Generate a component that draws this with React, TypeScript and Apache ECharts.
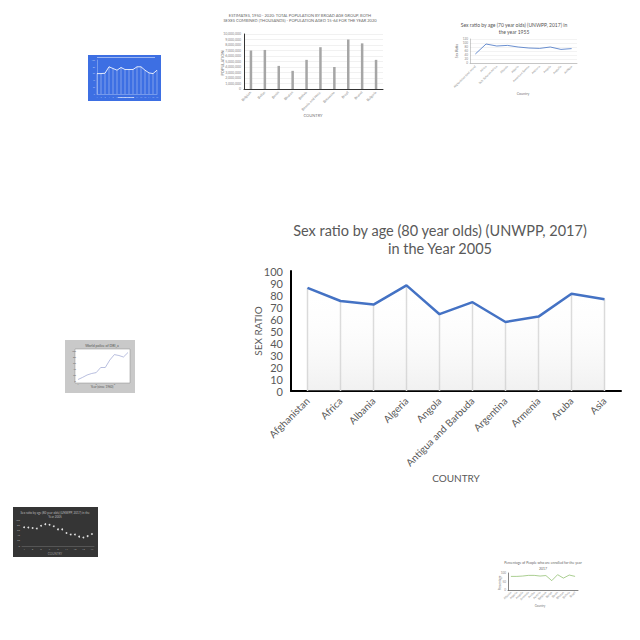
import React, { useEffect, useRef } from "react";
import * as echarts from "echarts";

// Main chart
const countries = ["Afghanistan", "Africa", "Albania", "Algeria", "Angola", "Antigua and Barbuda", "Argentina", "Armenia", "Aruba", "Asia"];
const sexRatio2005 = [86, 75, 72, 88, 64, 74, 57.5, 62, 81, 76.5];

// Thumbnail: population bars
const popCountries = ["Belgium", "Belize", "Benin", "Bhutan", "Bolivia", "Bosnia and Herz.", "Botswana", "Brazil", "Brunei", "Bulgaria"];
const popValues = [7000000, 7100000, 4200000, 3300000, 5300000, 7600000, 4000000, 9000000, 8300000, 5300000];

// Thumbnail: 70 year olds 1955
const ratioCountries = ["Afghanistan (and more)", "Africa", "Sub-Saharan Africa", "Albania", "Algeria", "American Samoa", "Andorra", "Angola", "Anguilla", "Antigua"];
const sexRatio1955 = [45, 95, 85, 88, 80, 75, 73, 80, 68, 72];

// Thumbnail: blue line
const blueCats = ["1", "2", "3", "4", "5", "6", "7", "8", "9", "10", "11", "12", "13", "14", "15", "16"];
const blueValues = [60, 60, 61, 80, 75, 70, 78, 72, 72, 72, 80, 80, 70, 62, 60, 70];

// Thumbnail: rising line (gray frame)
const grayCats = ["1", "2", "3", "4", "5", "6", "7", "8", "9", "10", "11", "12"];
const grayValues = [5, 12, 20, 25, 28, 45, 45, 70, 88, 85, 80, 95];

// Thumbnail: dark scatter
const darkCats = ["1", "2", "3", "4", "5", "6", "7", "8", "9", "10", "11", "12", "13", "14", "15", "16", "17"];
const darkValues = [72, 71, 69, 67, 78, 84, 82, 76, 64, 64, 50, 44, 44, 36, 33, 38, 46];

// Thumbnail: green line
const greenCats = ["Albania", "Algeria", "Angola", "Armenia", "Aruba", "Austria", "Belgium", "Belize", "Benin", "Bhutan", "Bolivia", "Brazil"];
const greenValues = [80, 80, 82, 86, 86, 82, 85, 55, 90, 70, 88, 80];

const FONT = "Lato, 'Open Sans', sans-serif";
const GRAY = "#595959";

export default function App() {
  const ref = useRef<HTMLDivElement>(null);
  useEffect(() => {
    if (!ref.current) return;
    const chart = echarts.init(ref.current, null, { renderer: "svg" });
    const tiny = { fontSize: 3, color: "#888", fontFamily: FONT };
    const hideAxis = { show: false };
    const option: any = {
      animation: false,
      backgroundColor: "#ffffff",
      textStyle: { fontFamily: FONT },
      graphic: [
        // blue thumbnail background
        { type: "rect", shape: { x: 88, y: 55, width: 73, height: 46 }, style: { fill: "#3d6fe3" }, z: -10 },
        { type: "rect", shape: { x: 97, y: 57, width: 58, height: 1 }, style: { fill: "rgba(255,255,255,0.5)" } },
        { type: "rect", shape: { x: 118, y: 97, width: 16, height: 1 }, style: { fill: "rgba(255,255,255,0.6)" } },
        // gray thumbnail frame
        { type: "rect", shape: { x: 65, y: 340, width: 70, height: 53 }, style: { fill: "#c9c9c9" }, z: -10 },
        { type: "rect", shape: { x: 75, y: 349, width: 55, height: 34 }, style: { fill: "#ffffff", stroke: "#888", lineWidth: 0.5 }, z: -9 },
        // dark thumbnail background
        { type: "rect", shape: { x: 13, y: 507, width: 85, height: 50 }, style: { fill: "#353535" }, z: -10 },
        { type: "text", x: 55, y: 511, style: { text: "Sex ratio by age (80 year olds) (UNWPP, 2017) in the", fill: "#bbb", fontSize: 3, align: "center", fontFamily: FONT } },
        { type: "text", x: 55, y: 515, style: { text: "Year 2005", fill: "#bbb", fontSize: 3, align: "center", fontFamily: FONT } },
        { type: "text", x: 55, y: 552, style: { text: "COUNTRY", fill: "#999", fontSize: 3, align: "center", fontFamily: FONT } },
        // gray thumbnail texts
        { type: "text", x: 102, y: 344, style: { text: "World police of DBI_a", fill: "#555", fontSize: 3.5, align: "center", fontFamily: FONT } },
        { type: "text", x: 102, y: 385, style: { text: "Year (since 1960)", fill: "#555", fontSize: 3, align: "center", fontFamily: FONT } },
        // pop thumbnail texts
        { type: "text", x: 300, y: 13, style: { text: "ESTIMATES, 1950 - 2020: TOTAL POPULATION BY BROAD AGE GROUP, BOTH", fill: "#666", fontSize: 4, align: "center", fontFamily: FONT } },
        { type: "text", x: 300, y: 18, style: { text: "SEXES COMBINED (THOUSANDS) - POPULATION AGED 15-64 FOR THE YEAR 2020", fill: "#666", fontSize: 4, align: "center", fontFamily: FONT } },
        { type: "text", x: 313, y: 113, style: { text: "COUNTRY", fill: "#777", fontSize: 4, align: "center", fontFamily: FONT } },
        { type: "text", x: 220, y: 63, rotation: Math.PI / 2, style: { text: "POPULATION", fill: "#777", fontSize: 4, align: "center", fontFamily: FONT } },
        // ratio 1955 thumbnail
        { type: "text", x: 514, y: 22, style: { text: "Sex ratio by age (70 year olds) (UNWPP, 2017) in", fill: "#555", fontSize: 5, align: "center", fontFamily: FONT } },
        { type: "text", x: 514, y: 29, style: { text: "the year 1955", fill: "#555", fontSize: 5, align: "center", fontFamily: FONT } },
        { type: "text", x: 523, y: 92, style: { text: "Country", fill: "#777", fontSize: 3.5, align: "center", fontFamily: FONT } },
        { type: "text", x: 455, y: 51, rotation: Math.PI / 2, style: { text: "Sex Ratio", fill: "#777", fontSize: 3.5, align: "center", fontFamily: FONT } },
        // green thumbnail
        { type: "text", x: 543, y: 561, style: { text: "Percentage of People who are enrolled for the year", fill: "#666", fontSize: 3.5, align: "center", fontFamily: FONT } },
        { type: "text", x: 543, y: 567, style: { text: "2017", fill: "#666", fontSize: 3.5, align: "center", fontFamily: FONT } },
        { type: "text", x: 540, y: 604, style: { text: "Country", fill: "#777", fontSize: 3, align: "center", fontFamily: FONT } },
        { type: "text", x: 498, y: 583, rotation: Math.PI / 2, style: { text: "Percentage", fill: "#777", fontSize: 3, align: "center", fontFamily: FONT } },
      ],
      title: [
        {
          text: "Sex ratio by age (80 year olds) (UNWPP, 2017)\nin the Year 2005",
          left: 435, top: 216, textAlign: "center",
          textStyle: { fontSize: 14.5, fontWeight: "normal", color: GRAY, fontFamily: FONT, lineHeight: 18 },
        },
      ],
      grid: [
        { left: 291, top: 271, width: 330, height: 120 }, // 0 main
        { left: 244, top: 34, width: 139, height: 55 }, // 1 pop
        { left: 470, top: 39, width: 107, height: 24 }, // 2 ratio 1955
        { left: 97, top: 60, width: 60, height: 34 }, // 3 blue
        { left: 78, top: 351, width: 50, height: 30 }, // 4 gray
        { left: 22, top: 520, width: 72, height: 26 }, // 5 dark
        { left: 508, top: 573, width: 70, height: 17 }, // 6 green
      ],
      xAxis: [
        {
          gridIndex: 0, type: "category", data: countries, boundaryGap: true,
          name: "COUNTRY", nameLocation: "middle", nameGap: 82, nameMoveOverlap: false,
          nameTextStyle: { fontSize: 10, color: GRAY, fontFamily: FONT },
          axisLine: { lineStyle: { color: "#000", width: 2 } },
          axisTick: { show: false },
          axisLabel: { rotate: 45, fontSize: 10, color: GRAY, fontFamily: FONT, interval: 0, margin: 8 },
        },
        {
          gridIndex: 1, type: "category", data: popCountries,
          axisLine: { lineStyle: { color: "#333", width: 1 } }, axisTick: hideAxis,
          axisLabel: { rotate: 45, interval: 0, ...tiny, fontSize: 3.5, margin: 3 },
        },
        {
          gridIndex: 2, type: "category", data: ratioCountries, boundaryGap: true,
          axisLine: { lineStyle: { color: "#999", width: 0.5 } }, axisTick: hideAxis,
          axisLabel: { rotate: 45, interval: 0, ...tiny, margin: 3 },
        },
        {
          gridIndex: 3, type: "category", data: blueCats, boundaryGap: false,
          axisLine: { lineStyle: { color: "rgba(255,255,255,0.6)", width: 0.5 } }, axisTick: hideAxis,
          axisLabel: { interval: 0, fontSize: 2, color: "rgba(255,255,255,0.6)", margin: 2 },
        },
        {
          gridIndex: 4, type: "category", data: grayCats, boundaryGap: false,
          axisLine: hideAxis, axisTick: hideAxis, axisLabel: { interval: 3, fontSize: 2.5, color: "#666", margin: 2 },
        },
        {
          gridIndex: 5, type: "category", data: darkCats, boundaryGap: true,
          axisLine: { lineStyle: { color: "#777", width: 0.5 } }, axisTick: hideAxis,
          axisLabel: { interval: 1, fontSize: 2.5, color: "#aaa", margin: 2 },
        },
        {
          gridIndex: 6, type: "category", data: greenCats, boundaryGap: true,
          axisLine: { lineStyle: { color: "#333", width: 0.6 } }, axisTick: hideAxis,
          axisLabel: { rotate: 45, interval: 0, ...tiny, margin: 2 },
        },
      ],
      yAxis: [
        {
          gridIndex: 0, type: "value", min: 0, max: 100, interval: 10,
          name: "SEX RATIO", nameLocation: "middle", nameGap: 28, nameMoveOverlap: false,
          nameTextStyle: { fontSize: 10, color: GRAY, fontFamily: FONT },
          axisLine: { show: true, lineStyle: { color: "#000", width: 2 } },
          axisTick: { show: false }, splitLine: { show: false },
          axisLabel: { fontSize: 11, color: GRAY, fontFamily: FONT, margin: 8 },
        },
        {
          gridIndex: 1, type: "value", min: 0, max: 10000000, interval: 1000000,
          axisLine: { show: true, lineStyle: { color: "#333", width: 1 } },
          axisTick: hideAxis, splitLine: { lineStyle: { color: "#e3e3e3", width: 0.5 } },
          axisLabel: { ...tiny, fontSize: 3.5, margin: 3 },
        },
        {
          gridIndex: 2, type: "value", min: 0, max: 120, interval: 20,
          axisLine: { show: true, lineStyle: { color: "#999", width: 0.5 } },
          axisTick: hideAxis, splitLine: { lineStyle: { color: "#e6e6e6", width: 0.5 } },
          axisLabel: { ...tiny, margin: 2 },
        },
        {
          gridIndex: 3, type: "value", min: 0, max: 100, interval: 20,
          axisLine: { show: true, lineStyle: { color: "rgba(255,255,255,0.6)", width: 0.5 } },
          axisTick: hideAxis, splitLine: { show: false },
          axisLabel: { fontSize: 2, color: "rgba(255,255,255,0.6)", margin: 2 },
        },
        {
          gridIndex: 4, type: "value", min: 0, max: 100, interval: 20,
          axisLine: hideAxis, axisTick: hideAxis, splitLine: { show: false },
          axisLabel: { fontSize: 2.5, color: "#666", margin: 2 },
        },
        {
          gridIndex: 5, type: "value", min: 0, max: 100, interval: 20,
          axisLine: hideAxis, axisTick: hideAxis, splitLine: { show: false },
          axisLabel: { fontSize: 2.5, color: "#aaa", margin: 2 },
        },
        {
          gridIndex: 6, type: "value", min: 0, max: 100, interval: 50,
          axisLine: { show: true, lineStyle: { color: "#333", width: 0.6 } },
          axisTick: hideAxis, splitLine: { show: false },
          axisLabel: { ...tiny, margin: 2 },
        },
      ],
      series: [
        {
          type: "bar", xAxisIndex: 0, yAxisIndex: 0, data: sexRatio2005, barWidth: 1.5,
          itemStyle: { color: "#d9d9d9" }, silent: true, z: 1,
        },
        {
          type: "line", xAxisIndex: 0, yAxisIndex: 0, data: sexRatio2005, symbol: "none",
          lineStyle: { color: "#4472c4", width: 2.5 },
          areaStyle: {
            color: new echarts.graphic.LinearGradient(0, 0, 0, 1, [
              { offset: 0, color: "rgba(255,255,255,0)" },
              { offset: 1, color: "rgba(210,210,210,0.45)" },
            ]),
          },
          z: 3,
        },
        {
          type: "bar", xAxisIndex: 1, yAxisIndex: 1, data: popValues, barWidth: 2.5,
          itemStyle: { color: "#a6a6a6" },
        },
        {
          type: "line", xAxisIndex: 2, yAxisIndex: 2, data: sexRatio1955, symbol: "none",
          lineStyle: { color: "#4472c4", width: 0.8 },
        },
        {
          type: "bar", xAxisIndex: 3, yAxisIndex: 3, data: blueValues, barWidth: 0.5,
          itemStyle: { color: "rgba(255,255,255,0.35)" },
        },
        {
          type: "line", xAxisIndex: 3, yAxisIndex: 3, data: blueValues, symbol: "none",
          lineStyle: { color: "rgba(255,255,255,0.85)", width: 1 },
        },
        {
          type: "line", xAxisIndex: 4, yAxisIndex: 4, data: grayValues, symbol: "none",
          lineStyle: { color: "#8a93c9", width: 0.6 },
        },
        {
          type: "line", xAxisIndex: 5, yAxisIndex: 5, data: darkValues, symbol: "circle", symbolSize: 1.8,
          lineStyle: { width: 0 }, itemStyle: { color: "#e0e0e0" },
        },
        {
          type: "line", xAxisIndex: 6, yAxisIndex: 6, data: greenValues, symbol: "none",
          lineStyle: { color: "#70ad47", width: 0.6 },
        },
      ],
    };
    chart.setOption(option);
    return () => chart.dispose();
  }, []);
  return <div ref={ref} style={{ position: "absolute", left: 0, top: 0, width: 640, height: 640 }} />;
}
